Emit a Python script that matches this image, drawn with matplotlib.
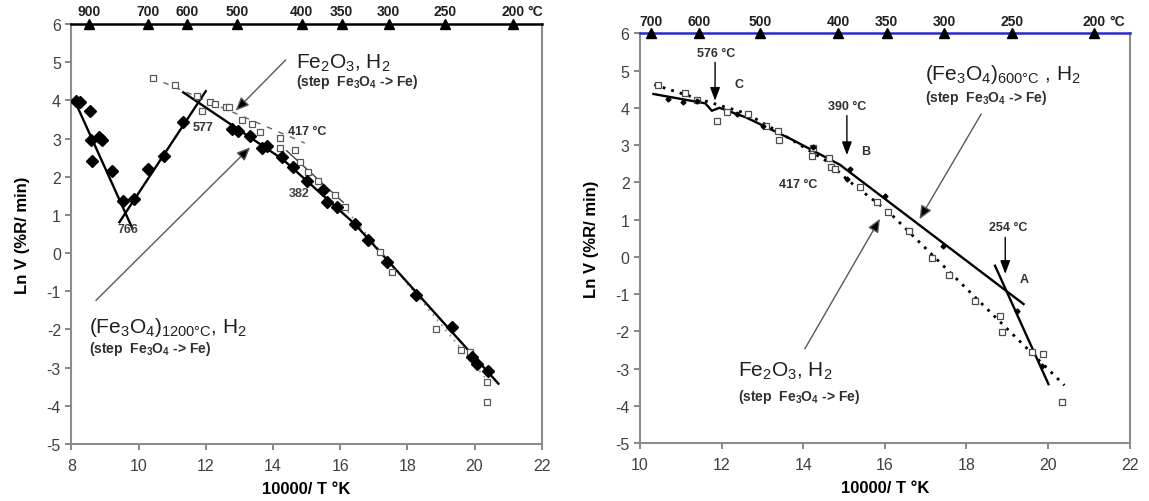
import numpy as np
import matplotlib
matplotlib.use("Agg")
import matplotlib.pyplot as plt

plt.rcParams["font.family"] = ["Liberation Sans", "DejaVu Sans"]
plt.rcParams["mathtext.fontset"] = "custom"
plt.rcParams["mathtext.rm"] = "Liberation Sans"
plt.rcParams["mathtext.it"] = "Liberation Sans:italic"
plt.rcParams["mathtext.bf"] = "Liberation Sans:bold"
plt.rcParams["axes.unicode_minus"] = False

# ---- left panel: (Fe3O4)1200C and Fe2O3 reduced in H2 ----
left_fe3o4_x = [8.14, 8.26, 8.55, 8.57, 8.60, 8.83, 8.90, 9.20, 9.55, 9.86, 10.29, 10.77,
                11.33, 12.79, 12.97, 13.32, 13.66, 13.82, 14.26, 14.60, 15.01, 15.50, 15.60,
                15.90, 16.44, 16.84, 17.38, 18.27, 19.32, 19.91, 20.06, 20.41]
left_fe3o4_y = [3.99, 3.95, 3.73, 2.96, 2.42, 3.03, 2.95, 2.16, 1.37, 1.42, 2.20, 2.54,
                3.43, 3.26, 3.21, 3.07, 2.76, 2.81, 2.51, 2.25, 1.90, 1.64, 1.33,
                1.20, 0.76, 0.35, -0.24, -1.09, -1.94, -2.73, -2.90, -3.08]

left_fe2o3_x = [10.42, 11.08, 11.73, 11.88, 12.12, 12.27, 12.59, 12.70, 13.07, 13.37, 13.61,
                14.21, 14.21, 14.65, 14.80, 15.05, 15.35, 15.85, 16.14, 17.18, 17.53, 18.85,
                19.61, 19.86, 20.36, 20.36]
left_fe2o3_y = [4.59, 4.40, 4.11, 3.73, 3.97, 3.91, 3.82, 3.82, 3.48, 3.37, 3.16,
                3.01, 2.74, 2.69, 2.38, 2.12, 1.90, 1.51, 1.20, 0.04, -0.49, -2.00,
                -2.53, -2.60, -3.38, -3.90]

# fitted segments (solid for Fe3O4, dashed/dotted for Fe2O3)
left_fit_a = ([8.10, 9.82], [3.99, 0.64])
left_fit_b = ([9.43, 12.00], [0.81, 4.24])
left_fit_c = ([11.33, 14.30, 16.44, 20.71], [4.21, 2.45, 0.76, -3.42])
left_fit_d = ([10.40, 14.95], [4.60, 2.88])
left_fit_e = ([14.41, 16.09], [2.68, 1.33])
left_fit_f = ([16.10, 20.35], [1.22, -3.30])

# ---- right panel: (Fe3O4)600C and Fe2O3 reduced in H2 ----
right_fe2o3_x = [10.45, 11.10, 11.40, 11.88, 12.12, 12.65, 13.10, 13.39, 13.41, 14.25, 14.21,
                 14.62, 14.67, 14.78, 15.39, 15.80, 16.07, 16.58, 17.15, 17.58, 18.21, 18.82,
                 18.86, 19.60, 19.87, 20.34]
right_fe2o3_y = [4.61, 4.40, 4.22, 3.65, 3.90, 3.83, 3.50, 3.39, 3.14, 2.92, 2.70,
                 2.64, 2.40, 2.36, 1.87, 1.47, 1.20, 0.70, -0.04, -0.49, -1.18, -1.60,
                 -2.01, -2.55, -2.61, -3.89]

right_fe3o4_x = [10.69, 11.06, 11.39, 12.37, 13.02, 14.25, 15.07, 15.15, 16.00, 17.43, 19.23, 19.85]
right_fe3o4_y = [4.24, 4.15, 4.19, 3.83, 3.52, 2.94, 2.09, 2.36, 1.64, 0.30, -1.45, -2.92]

right_fit_main = ([10.33, 11.60, 11.76, 11.95, 12.60, 13.70, 14.90, 19.40],
                  [4.37, 4.12, 3.92, 4.00, 3.74, 3.16, 2.47, -1.27])
right_fit_steep = ([18.70, 20.01], [-0.24, -3.42])
right_fit_dotted = ([10.35, 11.40, 12.60, 13.40, 14.60, 15.10, 16.10, 20.40],
                    [4.62, 4.25, 3.85, 3.35, 2.55, 2.05, 1.20, -3.45])

# temperature scale along the top (°C)
left_top_temps = [900, 700, 600, 500, 400, 350, 300, 250, 200]
right_top_temps = [700, 600, 500, 400, 350, 300, 250, 200]


def style_axes(ax, xmin, top_color):
    ax.set_xlim(xmin, 22)
    ax.set_ylim(-5, 6)
    ax.set_xticks(np.arange(xmin, 23, 2))
    ax.set_yticks(np.arange(-5, 7, 1))
    for side in ["left", "bottom", "right"]:
        ax.spines[side].set_color("0.55")
        ax.spines[side].set_linewidth(1.5)
    ax.spines["top"].set_color(top_color)
    ax.spines["top"].set_linewidth(1.8)
    ax.tick_params(axis="both", direction="out", length=4, width=1.2, color="0.45",
                   labelsize=11.5, labelcolor="#404040")
    ax.tick_params(axis="x", pad=6)
    ax.set_xlabel("10000/ T °K", fontsize=12, fontweight="bold", labelpad=6)
    ax.set_ylabel("Ln V (%R/ min)", fontsize=12, fontweight="bold", labelpad=12)


def top_scale(ax, temps):
    pos = [10000.0 / (t + 273.15) for t in temps]
    ax.plot(pos, [6] * len(pos), linestyle="none", marker="^", color="k",
            markersize=6.5, clip_on=False, zorder=5)
    for t, p in zip(temps, pos):
        ax.annotate(str(t), (p, 6), xytext=(0, 4), textcoords="offset points",
                    ha="center", va="bottom", fontsize=10, fontweight="bold",
                    color="#202020", annotation_clip=False)
    ax.annotate("°C", (pos[-1], 6), xytext=(10.5, 4), textcoords="offset points",
                ha="left", va="bottom", fontsize=10, fontweight="bold",
                color="#202020", annotation_clip=False)


def big_arrow(ax, start, end):
    ax.annotate("", xy=end, xytext=start,
                arrowprops=dict(arrowstyle="-|>,head_length=0.8,head_width=0.35",
                                ec="0.35", fc="k", lw=1.0, shrinkA=0, shrinkB=0))


def small_arrow(ax, start, end):
    ax.annotate("", xy=end, xytext=start,
                arrowprops=dict(arrowstyle="-|>,head_length=0.8,head_width=0.3",
                                ec="k", fc="k", lw=1.0, shrinkA=0, shrinkB=0))


fig = plt.figure(figsize=(11.49, 5.02), dpi=100)
ax1 = fig.add_axes([0.0621, 0.1135, 0.4094, 0.8367])
ax2 = fig.add_axes([0.5570, 0.1155, 0.4262, 0.8162])

# left panel
style_axes(ax1, 8, "k")
top_scale(ax1, left_top_temps)
for seg in (left_fit_a, left_fit_b, left_fit_c):
    ax1.plot(*seg, color="k", lw=1.7, zorder=3)
ax1.plot(*left_fit_d, color="0.4", lw=1.0, linestyle=(0, (4, 5)), zorder=2)
ax1.plot(*left_fit_e, color="0.25", lw=1.0, zorder=2)
ax1.plot(*left_fit_f, color="0.55", lw=1.2, linestyle=(0, (1, 3)), zorder=2)
ax1.plot(left_fe2o3_x, left_fe2o3_y, linestyle="none", marker="s", markersize=4,
         markerfacecolor="white", markeredgecolor="0.35", markeredgewidth=0.9, zorder=3)
ax1.plot(left_fe3o4_x, left_fe3o4_y, linestyle="none", marker="D", markersize=6.5,
         color="k", zorder=4)

ax1.text(14.68, 5.0, r"Fe$_2$O$_3$, H$_2$", fontsize=15, va="center", color="#202020")
ax1.text(14.68, 4.51, r"(step  Fe$_\mathbf{3}$O$_\mathbf{4}$ -> Fe)", fontsize=10,
         fontweight="bold", va="center", color="#303030")
big_arrow(ax1, (14.38, 5.06), (12.89, 3.73))
ax1.text(8.52, -1.91, r"(Fe$_3$O$_4$)$_{\mathrm{1200°C}}$, H$_2$", fontsize=15,
         va="center", color="#202020")
ax1.text(8.52, -2.48, r"(step  Fe$_\mathbf{3}$O$_\mathbf{4}$ -> Fe)", fontsize=10,
         fontweight="bold", va="center", color="#303030")
big_arrow(ax1, (8.73, -1.24), (13.32, 2.77))
ax1.text(11.62, 3.30, "577", fontsize=9, fontweight="bold", va="center", color="#303030")
ax1.text(14.46, 3.20, "417 °C", fontsize=9, fontweight="bold", va="center", color="#303030")
ax1.text(14.46, 1.58, "382", fontsize=9, fontweight="bold", va="center", color="#404040")
ax1.text(9.38, 0.63, "766", fontsize=9, fontweight="bold", va="center", color="#404040")

# right panel
style_axes(ax2, 10, "#2a2acc")
top_scale(ax2, right_top_temps)
ax2.plot(*right_fit_main, color="k", lw=1.7, zorder=3)
ax2.plot(*right_fit_steep, color="k", lw=1.7, zorder=3)
ax2.plot(*right_fit_dotted, color="k", lw=2.0, linestyle=(0, (1, 2.2)), zorder=2)
ax2.plot(right_fe2o3_x, right_fe2o3_y, linestyle="none", marker="s", markersize=4,
         markerfacecolor="white", markeredgecolor="0.3", markeredgewidth=0.9, zorder=3)
ax2.plot(right_fe3o4_x, right_fe3o4_y, linestyle="none", marker="D", markersize=2.5,
         color="k", zorder=4)

ax2.text(11.39, 5.47, "576 °C", fontsize=9, fontweight="bold", va="center", color="#303030")
small_arrow(ax2, (11.84, 5.22), (11.84, 4.19))
ax2.text(12.31, 4.64, "C", fontsize=9, fontweight="bold", va="center", color="#303030")
ax2.text(15.07, 4.06, "390 °C", fontsize=9, fontweight="bold", ha="center", va="center",
         color="#303030")
small_arrow(ax2, (15.07, 3.79), (15.07, 2.73))
ax2.text(15.43, 2.85, "B", fontsize=9, fontweight="bold", va="center", color="#303030")
ax2.text(13.88, 1.95, "417 °C", fontsize=9, fontweight="bold", ha="center", va="center",
         color="#303030")
ax2.text(19.03, 0.79, "254 °C", fontsize=9, fontweight="bold", ha="center", va="center",
         color="#303030")
small_arrow(ax2, (18.95, 0.52), (18.95, -0.46))
ax2.text(19.30, -0.60, "A", fontsize=9, fontweight="bold", va="center", color="#303030")

ax2.text(16.98, 4.91, r"(Fe$_3$O$_4$)$_{\mathrm{600°C}}$ , H$_2$", fontsize=15,
         va="center", color="#202020")
ax2.text(16.98, 4.28, r"(step  Fe$_\mathbf{3}$O$_\mathbf{4}$ -> Fe)", fontsize=10,
         fontweight="bold", va="center", color="#303030")
big_arrow(ax2, (18.36, 3.83), (16.85, 1.01))
ax2.text(12.40, -3.06, r"Fe$_2$O$_3$, H$_2$", fontsize=15, va="center", color="#202020")
ax2.text(12.40, -3.73, r"(step  Fe$_\mathbf{3}$O$_\mathbf{4}$ -> Fe)", fontsize=10,
         fontweight="bold", va="center", color="#303030")
big_arrow(ax2, (14.04, -2.47), (15.88, 1.02))

fig.savefig("out.png", dpi=100)
